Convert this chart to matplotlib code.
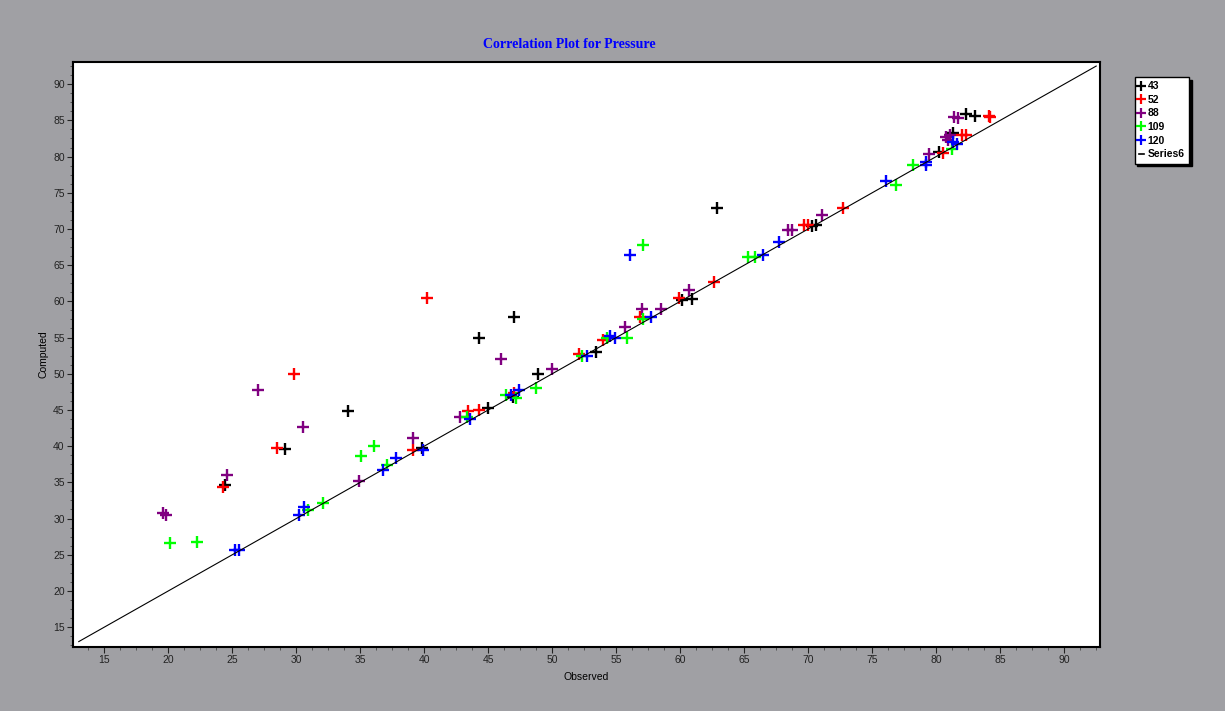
import matplotlib.pyplot as plt
from matplotlib.lines import Line2D
from matplotlib.ticker import MultipleLocator

# observed / computed pairs per series
obs_43 = [24.4, 29.1, 34.0, 39.8, 44.3, 45.0, 46.9, 47.0, 48.9, 53.4, 60.1, 60.9,
          62.9, 70.3, 70.6, 80.2, 81.3, 82.3, 83.0]
cmp_43 = [34.6, 39.6, 44.8, 39.7, 54.9, 45.2, 46.8, 57.9, 49.9, 53.0, 60.2, 60.3,
          72.9, 70.4, 70.6, 80.65, 83.3, 85.9, 85.6]

obs_52 = [24.25, 28.5, 29.8, 39.1, 40.2, 43.4, 44.3, 47.0, 52.1, 54.0, 56.85, 59.9,
          62.6, 69.7, 70.0, 72.7, 80.5, 82.0, 82.3, 84.1, 84.2]
cmp_52 = [34.4, 39.7, 50.0, 39.4, 60.4, 44.8, 45.0, 47.4, 52.7, 54.6, 57.8, 60.4,
          62.7, 70.5, 70.5, 72.9, 80.5, 83.0, 83.0, 85.6, 85.4]

obs_88 = [19.6, 19.8, 24.6, 27.0, 30.5, 34.9, 39.1, 42.8, 46.0, 49.95, 55.7, 57.0,
          58.5, 60.7, 68.4, 68.75, 71.05, 79.4, 80.8, 81.1, 80.95, 81.4, 81.7]
cmp_88 = [30.7, 30.5, 36.0, 47.7, 42.7, 35.2, 41.1, 44.0, 52.0, 50.7, 56.5, 59.0,
          59.0, 61.5, 69.9, 69.9, 71.9, 80.4, 82.7, 83.0, 82.3, 85.5, 85.3]

obs_109 = [20.1, 22.2, 30.9, 32.1, 35.05, 36.1, 37.1, 43.3, 46.4, 47.2, 48.7, 52.3,
           54.25, 55.8, 57.1, 57.1, 65.3, 65.8, 76.85, 78.2, 81.2]
cmp_109 = [26.6, 26.8, 31.2, 32.1, 38.7, 40.0, 37.4, 44.0, 47.0, 46.7, 48.0, 52.4,
           55.0, 55.0, 57.6, 67.8, 66.1, 66.1, 76.05, 78.8, 81.1]

obs_120 = [25.2, 25.5, 30.2, 30.6, 36.8, 37.8, 39.9, 43.6, 46.8, 47.4, 52.7, 54.5,
           54.9, 56.1, 57.7, 66.5, 67.7, 76.1, 79.2, 79.2, 81.3, 81.6]
cmp_120 = [25.7, 25.7, 30.5, 31.6, 36.7, 38.4, 39.4, 43.8, 47.0, 47.7, 52.4, 55.2,
           54.9, 66.4, 57.8, 66.4, 68.2, 76.6, 79.3, 78.8, 82.0, 81.8]

# 1:1 reference line (Series6)
line_x = [13.0, 92.5]
line_y = [13.0, 92.5]

series = [
    ('43', obs_43, cmp_43, 'black'),
    ('52', obs_52, cmp_52, '#ff0000'),
    ('88', obs_88, cmp_88, '#800080'),
    ('109', obs_109, cmp_109, '#00ff00'),
    ('120', obs_120, cmp_120, '#0000ff'),
]

bg = '#a0a0a4'
fig = plt.figure(figsize=(12.25, 7.11), dpi=100, facecolor=bg)
ax = fig.add_axes([0.0596, 0.0905, 0.8384, 0.8227])
ax.set_facecolor('white')

handles = []
for name, xs, ys, col in series:
    ax.plot(xs, ys, linestyle='none', marker='+', color=col, ms=9, mew=1.7)
    handles.append(Line2D([], [], linestyle='none', marker='+', color=col, ms=7, mew=1.6, label=name))

ax.plot(line_x, line_y, color='black', lw=0.8)
handles.append(Line2D([], [], color='black', lw=1.2, label='Series6'))

ax.set_xlim(12.55, 92.8)
ax.set_ylim(12.3, 93.1)
ax.xaxis.set_major_locator(MultipleLocator(5))
ax.yaxis.set_major_locator(MultipleLocator(5))
ax.xaxis.set_minor_locator(MultipleLocator(1.25))
ax.yaxis.set_minor_locator(MultipleLocator(1.25))
ax.tick_params(which='major', length=4, width=0.8, labelsize=7.5, colors='#222222', pad=2)
ax.tick_params(which='minor', length=2.5, width=0.6, colors='#444444')
for lbl in ax.get_xticklabels() + ax.get_yticklabels():
    lbl.set_fontfamily('Liberation Sans')
for s in ax.spines.values():
    s.set_linewidth(1.5)

ax.set_xlabel('Observed', fontsize=7.5, family='Liberation Sans', labelpad=5)
ax.set_ylabel('Computed', fontsize=7.5, family='Liberation Sans', labelpad=3)

fig.text(0.465, 0.937, 'Correlation Plot for Pressure', color='#0000ff',
         fontsize=10, fontweight='bold', family='Liberation Serif', ha='center', va='center')

leg = fig.legend(handles=handles, loc='upper left', bbox_to_anchor=(0.922, 0.899),
                 prop={'family': 'Liberation Sans', 'weight': 'bold', 'size': 7.5},
                 handlelength=0.5, handletextpad=0.35, labelspacing=0.35,
                 borderpad=0.4, fancybox=False, framealpha=1,
                 shadow={'color': 'black', 'alpha': 1})
leg.get_frame().set_edgecolor('black')
leg.get_frame().set_linewidth(1.0)

fig.savefig('out.png', dpi=100, facecolor=bg)
